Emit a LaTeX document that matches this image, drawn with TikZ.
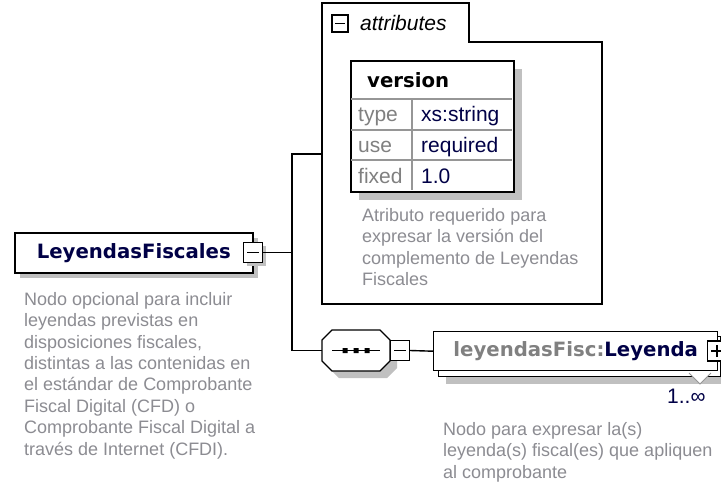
\documentclass[tikz,border=0pt]{standalone}
\usepackage{fontspec}
\setmainfont{Liberation Sans}
\newfontfamily\dvsans{DejaVu Sans}
\usetikzlibrary{shadows}
\definecolor{descgray}{RGB}{140,140,146}
\definecolor{lblgray}{RGB}{128,128,128}
\definecolor{inknavy}{RGB}{0,0,70}
\definecolor{shadowgray}{RGB}{192,192,192}
\definecolor{gridgray}{RGB}{150,150,150}
\tikzset{
  outline/.style={draw=black, line width=1.4pt, fill=white},
  conn/.style={draw=black, line width=1.4pt},
  shadowfill/.style={fill=shadowgray, draw=none},
  desc/.style={anchor=base west, inner sep=0pt, align=left, text=descgray, font=\fontsize{18}{21.4}\selectfont},
  boldlbl/.style={font=\dvsans\bfseries\fontsize{19.7}{22}\selectfont},
  tbltxt/.style={anchor=base west, inner sep=0pt, font=\fontsize{21}{24}\selectfont},
  pmbox/.style={draw=black, line width=1.2pt, fill=white, minimum width=19, minimum height=20, inner sep=0pt},
  gshadow/.style={drop shadow={opacity=1, fill=shadowgray, shadow xshift=#1pt, shadow yshift=-#1pt}},
}
\begin{document}
\begin{tikzpicture}[x=1pt,y=-1pt,line join=miter]
\clip (0,0) rectangle (721,483);
\fill[white] (0,0) rectangle (721,483);

% root element
\node[outline, line width=1.6pt, minimum width=238, minimum height=40, anchor=north west,
      boldlbl, text=inknavy, gshadow=5] (root) at (14,232) {LeyendasFiscales};
\node[pmbox, gshadow=3] (rootpm) at (253,252.5) {};
\draw[line width=1.2pt] ([xshift=-6pt]rootpm.center) -- ([xshift=6pt]rootpm.center);
% anchor = baseline of the last line
\node[desc] (rootdesc) at (24,455) {Nodo opcional para incluir\\leyendas previstas en\\disposiciones fiscales,\\distintas a las contenidas en\\el estándar de Comprobante\\Fiscal Digital (CFD) o\\Comprobante Fiscal Digital a\\través de Internet (CFDI).};

% bus
\coordinate (busx) at (292,0);
\coordinate (attrin) at (322,154);
\coordinate (seqin) at (322,350.5);
\draw[conn] (rootpm.east) -- (rootpm.east -| busx);
\draw[conn] (attrin) -- (attrin -| busx) -- (seqin -| busx) -- (seqin);

% attributes container
\draw[outline, line width=1.3pt] (322,3) -- (469,3) -- (469,42) -- (602,42) -- (602,304) -- (322,304) -- cycle;
\node[pmbox, minimum width=16, minimum height=17, line width=1.1pt] (attrpm) at (340,23.5) {};
\draw[line width=1.1pt] ([xshift=-5pt]attrpm.center) -- ([xshift=5pt]attrpm.center);
\node[anchor=base west, inner sep=0pt, font=\itshape\fontsize{21}{24}\selectfont] (attrlbl) at (360,30) {attributes};

% version table
\node[outline, line width=1.5pt, minimum width=163, minimum height=131, anchor=north west,
      inner sep=0pt, gshadow=8] (vtab) at (350,60) {};
\draw[gridgray, line width=1.2pt] (351,99) -- (512,99) (351,130) -- (512,130) (351,160) -- (512,160) (412,99) -- (412,190);
\node[anchor=base west, inner sep=0pt, boldlbl, text=black] (vname) at (367,87) {version};
\node[tbltxt, text=lblgray] (ktype) at (358,121) {type};
\node[tbltxt, text=inknavy] (vtype) at (421,121) {xs:string};
\node[tbltxt, text=lblgray] (kuse) at (358,152) {use};
\node[tbltxt, text=inknavy] (vuse) at (421,152) {required};
\node[tbltxt, text=lblgray] (kfixed) at (358,183) {fixed};
\node[tbltxt, text=inknavy] (vfixed) at (421,183) {1.0};
\node[desc] (attrdesc) at (362,285.5) {Atributo requerido para\\expresar la versión del\\complemento de Leyendas\\Fiscales};

% sequence compositor
\fill[shadowfill] (339,337) -- (387,337) -- (397,347) -- (397,368) -- (387,378) -- (339,378) -- (329,368) -- (329,347) -- cycle;
\draw[outline, line width=1.3pt] (332,330) -- (380,330) -- (390,340) -- (390,361) -- (380,371) -- (332,371) -- (322,361) -- (322,340) -- cycle;
\draw[line width=1.4pt] (332,350.5) -- (380,350.5);
\fill (342.5,348) rectangle (347.5,353) (353.5,348) rectangle (358.5,353) (364.5,348) rectangle (369.5,353);
\node[pmbox] (seqpm) at (400,350.5) {};
\draw[line width=1.2pt] ([xshift=-6pt]seqpm.center) -- ([xshift=6pt]seqpm.center);

% Leyenda element (repeating)
\node[outline, minimum width=282, minimum height=40, anchor=north west, inner sep=0pt, gshadow=7] (leyback) at (438,336) {};
\node[outline, minimum width=284, minimum height=39, anchor=north west, boldlbl] (ley) at (433,331)
  {\textcolor{lblgray}{leyendasFisc:}\textcolor{inknavy}{Leyenda}};
\draw[conn] (seqpm.east) -- (ley.west);
\node[pmbox] (leypm) at (717,351) {};
\draw[line width=1.2pt] ([xshift=-6pt]leypm.center) -- ([xshift=6pt]leypm.center)
  ([yshift=-6pt]leypm.center) -- ([yshift=6pt]leypm.center);
\draw[draw=gridgray, fill=white, line width=1pt] (689,373) -- (700,384) -- (711,373);
\node[anchor=base west, inner sep=0pt, font=\fontsize{21}{24}\selectfont, text=inknavy] (mult) at (667,403) {1..∞};
\node[desc] (leydesc) at (443,478) {Nodo para expresar la(s)\\leyenda(s) fiscal(es) que apliquen\\al comprobante};
\end{tikzpicture}
\end{document}
